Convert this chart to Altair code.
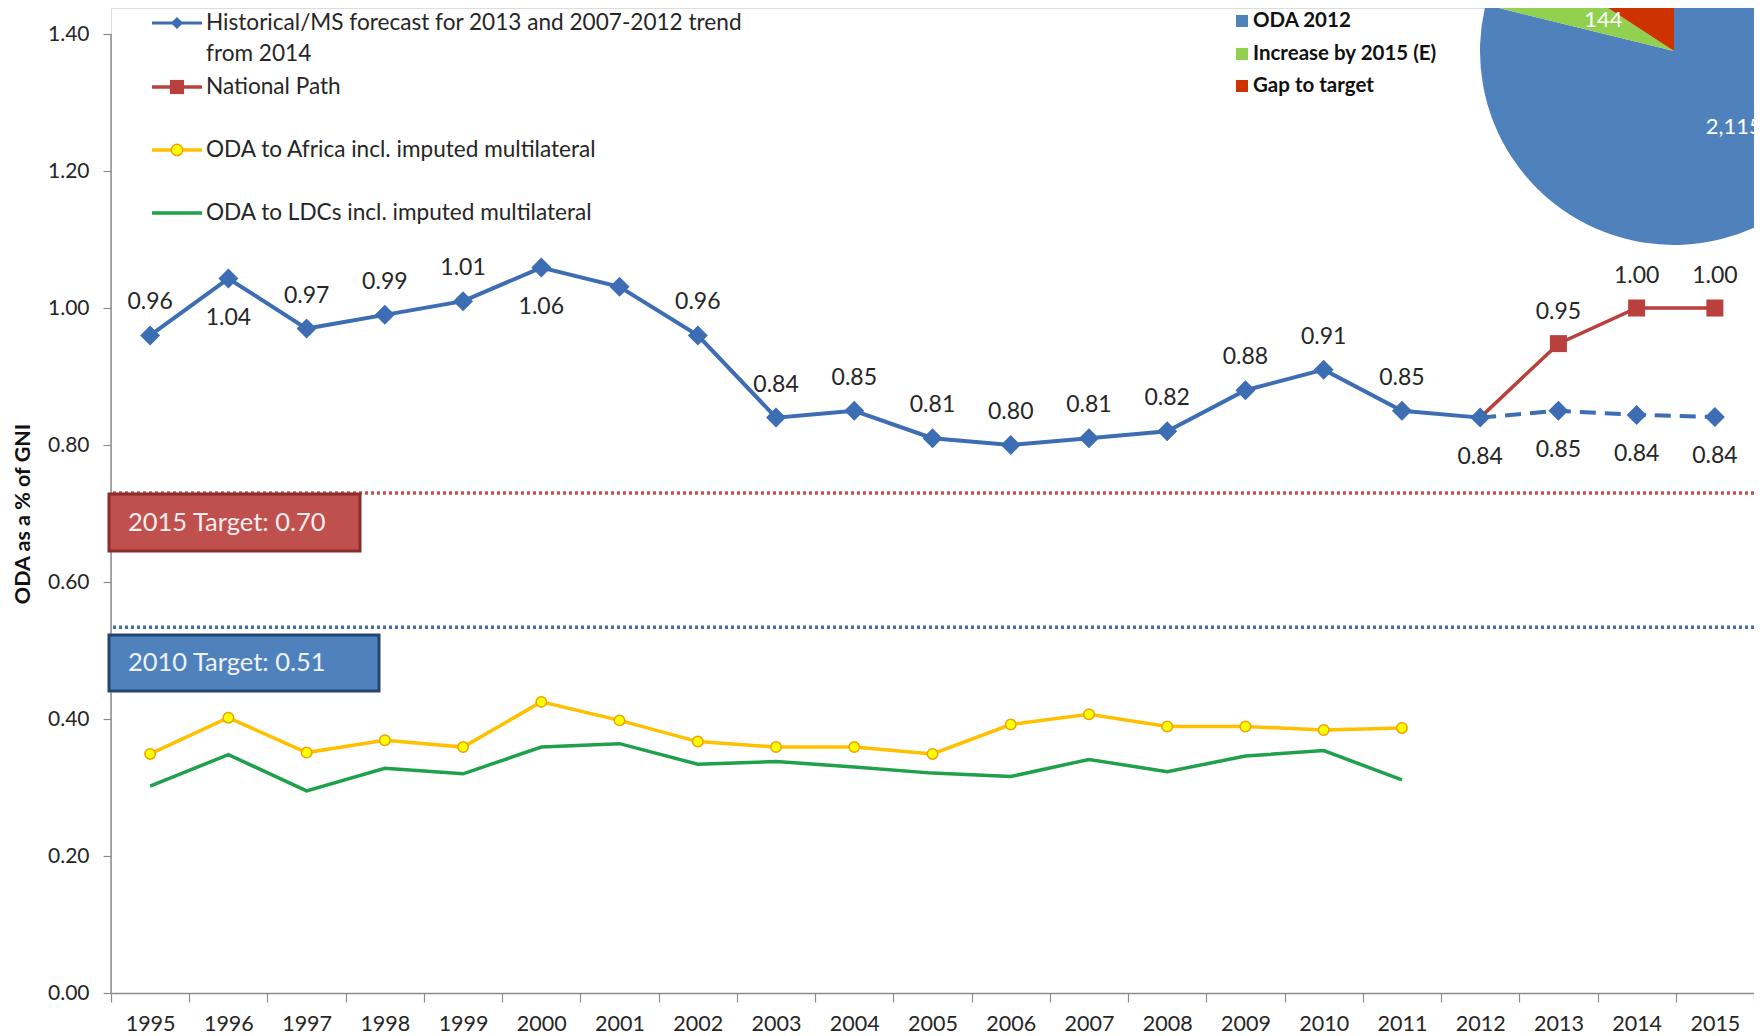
import altair as alt
import pandas as pd

# ---------------- data ----------------
years = list(range(1995, 2016))

hist_years = list(range(1995, 2013))
hist_values = [0.96, 1.043, 0.97, 0.99, 1.01, 1.059, 1.031, 0.96, 0.84, 0.85,
               0.81, 0.80, 0.81, 0.82, 0.88, 0.91, 0.85, 0.84]

forecast_years = [2012, 2013, 2014, 2015]
forecast_values = [0.84, 0.85, 0.844, 0.841]

path_years = [2012, 2013, 2014, 2015]
path_values = [0.84, 0.948, 1.00, 1.00]

africa_years = list(range(1995, 2012))
africa_values = [0.349, 0.402, 0.351, 0.369, 0.359, 0.425, 0.398, 0.367, 0.359,
                 0.359, 0.349, 0.392, 0.407, 0.389, 0.389, 0.384, 0.387]

ldc_years = list(range(1995, 2012))
ldc_values = [0.302, 0.348, 0.295, 0.328, 0.320, 0.359, 0.364, 0.334, 0.338,
              0.330, 0.321, 0.316, 0.341, 0.323, 0.346, 0.354, 0.311]

labels_below_years = [1996, 2000, 2012, 2013, 2014, 2015]
unlabelled_years = [2001]

target_texts = ["2015 Target: 0.70", "2010 Target: 0.51"]
target_line_levels = [0.730, 0.534]   # where the dotted lines are drawn in the picture

legend_labels = ["Historical/MS forecast for 2013 and 2007-2012 trend", "from 2014",
                 "National Path", "ODA to Africa incl. imputed multilateral",
                 "ODA to LDCs incl. imputed multilateral"]

pie_parts = ["ODA 2012", "Increase by 2015 (E)", "Gap to target"]
pie_values = [2115, 144, 424]
pie_labelled = ["ODA 2012", "Increase by 2015 (E)"]

y_ticks = [0.0, 0.2, 0.4, 0.6, 0.8, 1.0, 1.2, 1.4]

# ---------------- styles ----------------
BLUE = "#3D6DB2"
RED = "#B9403D"
YELLOW = "#FFC000"
GREEN = "#1FA04A"
PIE_COLORS = ["#4F81BD", "#92D050", "#CC3300"]
FONT = "Lato"
TXT = "#262626"
AXIS_GRAY = "#8C8C8C"

W, H = 1643, 985

hist_df = pd.DataFrame({"year": hist_years, "value": hist_values})
fc_df = pd.DataFrame({"year": forecast_years, "value": forecast_values})
path_df = pd.DataFrame({"year": path_years, "value": path_values})
afr_df = pd.DataFrame({"year": africa_years, "value": africa_values})
ldc_df = pd.DataFrame({"year": ldc_years, "value": ldc_values})
blue_all = pd.concat([hist_df, fc_df[fc_df.year > 2012]], ignore_index=True)
pie_df = pd.DataFrame({"part": pie_parts, "value": pie_values, "k": [0, 1, 2]})
one = pd.DataFrame({"a": [0]})

xenc = alt.X("year:O",
             scale=alt.Scale(type="band", domain=years, paddingInner=0, paddingOuter=0),
             bandPosition=0.5,
             axis=alt.Axis(title=None, labelAngle=0, tickBand="extent", tickSize=9,
                           tickColor=AXIS_GRAY, tickWidth=1.2, domainColor=AXIS_GRAY,
                           domainWidth=1.5, labelFont=FONT, labelFontSize=21.5,
                           labelColor=TXT, labelPadding=11, grid=False))
yenc = alt.Y("value:Q",
             scale=alt.Scale(domain=[0, 1.438], nice=False, zero=True),
             axis=alt.Axis(title=None, values=y_ticks, format=".2f", domain=False,
                           grid=False, tickSize=8, tickColor=AXIS_GRAY, tickWidth=1.2,
                           labelFont=FONT, labelFontSize=21, labelColor=TXT,
                           labelPadding=14))


def line(df, color, width, dash=None):
    kw = dict(color=color, strokeWidth=width)
    if dash:
        kw["strokeDash"] = dash
    return alt.Chart(df).mark_line(**kw).encode(x=xenc, y=yenc)


def pts(df, shape, size, fill, stroke=None, sw=0):
    kw = dict(shape=shape, size=size, filled=True, fill=fill, opacity=1)
    if stroke:
        kw.update(stroke=stroke, strokeWidth=sw)
    return alt.Chart(df).mark_point(**kw).encode(x=xenc, y=yenc)


def labels(df, dy):
    return alt.Chart(df).mark_text(font=FONT, fontSize=23, color=TXT, dy=dy,
                                   baseline="middle").encode(
        x=xenc, y=yenc, text=alt.Text("value:Q", format=".2f"))


def hrule(x1, x2, y, color, width, dash=None):
    kw = dict(color=color, strokeWidth=width)
    if dash:
        kw["strokeDash"] = dash
    return alt.Chart(one).mark_rule(**kw).encode(
        x=alt.value(x1), x2=alt.value(x2), y=alt.value(y))


def ptxt(x, y, text, size=22.6, color=TXT, weight="normal", align="left"):
    return alt.Chart(one).mark_text(font=FONT, fontSize=size, color=color,
                                    fontWeight=weight, align=align,
                                    baseline="middle").encode(
        x=alt.value(x), y=alt.value(y), text=alt.value(text))


def psym(x, y, shape, size, fill, stroke=None, sw=0):
    kw = dict(shape=shape, size=size, filled=True, fill=fill, opacity=1)
    if stroke:
        kw.update(stroke=stroke, strokeWidth=sw)
    return alt.Chart(one).mark_point(**kw).encode(x=alt.value(x), y=alt.value(y))


layers = []

# target dotted lines
tl_df = pd.DataFrame({"value": target_line_levels})
layers.append(alt.Chart(tl_df.iloc[[0]]).mark_rule(color="#C9504D", strokeWidth=3.5,
                                                   strokeDash=[3, 3]).encode(y=yenc))
layers.append(alt.Chart(tl_df.iloc[[1]]).mark_rule(color="#3F6FAE", strokeWidth=3.5,
                                                   strokeDash=[3, 3]).encode(y=yenc))

# y-axis line from 0 to 1.40
layers.append(alt.Chart(one).mark_rule(color=AXIS_GRAY, strokeWidth=1.5).encode(
    x=alt.value(0), y=alt.datum(0), y2=alt.datum(1.4)))

# target boxes
layers.append(alt.Chart(one).mark_rect(fill="#C0504D", stroke="#8A2D2B", strokeWidth=3).encode(
    x=alt.value(-2), x2=alt.value(249), y=alt.value(486), y2=alt.value(543)))
layers.append(ptxt(17, 515, target_texts[0], size=25.5, color="#FBEDED"))
layers.append(alt.Chart(one).mark_rect(fill="#4F81BD", stroke="#24456F", strokeWidth=3).encode(
    x=alt.value(-2), x2=alt.value(268), y=alt.value(627), y2=alt.value(683)))
layers.append(ptxt(17, 655, target_texts[1], size=25.5, color="#EEF3FA"))

# series
layers.append(line(ldc_df, GREEN, 3.5))
layers.append(line(afr_df, YELLOW, 3.5))
layers.append(pts(afr_df, "circle", 110, "#FFFF00", "#F0A000", 1.5))
layers.append(line(hist_df, BLUE, 4))
layers.append(line(fc_df, BLUE, 4, dash=[16, 9]))
layers.append(line(path_df, RED, 3.5))
layers.append(pts(blue_all, "diamond", 400, BLUE))
layers.append(pts(path_df[path_df.year > 2012], "square", 289, RED))

# data labels
skip = labels_below_years + unlabelled_years
layers.append(labels(blue_all[~blue_all.year.isin(skip)], -33))
layers.append(labels(blue_all[blue_all.year.isin(labels_below_years)], 39))
layers.append(labels(path_df[path_df.year > 2012], -32))

# line legend (top left)
LY = [15, 46, 79, 142, 205]
layers.append(hrule(41, 91, LY[0], BLUE, 3))
layers.append(psym(66, LY[0], "diamond", 150, BLUE))
layers.append(ptxt(95, LY[0], legend_labels[0]))
layers.append(ptxt(95, LY[1], legend_labels[1]))
layers.append(hrule(41, 91, LY[2], RED, 3.5))
layers.append(psym(66, LY[2], "square", 200, RED))
layers.append(ptxt(95, LY[2], legend_labels[2]))
layers.append(hrule(41, 91, LY[3], YELLOW, 3.5))
layers.append(psym(66, LY[3], "circle", 130, "#FFFF00", "#F0A000", 1.5))
layers.append(ptxt(95, LY[3], legend_labels[3]))
layers.append(hrule(41, 91, LY[4], GREEN, 3.5))
layers.append(ptxt(95, LY[4], legend_labels[4]))

# pie legend
for i, (lab, col) in enumerate(zip(pie_parts, PIE_COLORS)):
    yy = [13, 46, 78][i]
    layers.append(alt.Chart(one).mark_rect(fill=col).encode(
        x=alt.value(1125), x2=alt.value(1137), y=alt.value(yy - 6), y2=alt.value(yy + 6)))
    layers.append(ptxt(1142, yy, lab, size=20.5, color="#111111", weight="bold"))

# pie (angles in radians, clockwise from 12 o'clock)
pie_base = alt.Chart(pie_df).transform_window(
    cum="sum(value)", sort=[alt.SortField("k", order="ascending")], frame=[None, 0]
).transform_joinaggregate(total="sum(value)").transform_calculate(
    t1="(datum.cum - datum.value) / datum.total * 2 * PI",
    t2="datum.cum / datum.total * 2 * PI",
    mid="(datum.cum - datum.value / 2) / datum.total * 2 * PI",
    r="datum.k == 1 ? 77 : 97",
)
layers.append(pie_base.mark_arc(outerRadius=194).encode(
    theta=alt.Theta("t1:Q", scale=None),
    theta2=alt.Theta2("t2:Q"),
    color=alt.Color("part:N", scale=alt.Scale(domain=pie_parts, range=PIE_COLORS), legend=None),
    x=alt.value(1563), y=alt.value(43)))
layers.append(pie_base.transform_filter(
    alt.FieldOneOfPredicate(field="part", oneOf=pie_labelled)
).mark_text(font=FONT, fontSize=22, color="white").encode(
    theta=alt.Theta("mid:Q", scale=None),
    radius=alt.Radius("r:Q", scale=None),
    text=alt.Text("value:Q", format=",.0f"),
    x=alt.value(1563), y=alt.value(43)))

# y-axis title
layers.append(alt.Chart(one).mark_text(font=FONT, fontSize=21.5, fontWeight="bold", color="#111111",
                                       angle=270, align="center", baseline="middle").encode(
    x=alt.value(-87), y=alt.value(506), text=alt.value("ODA as a % of GNI")))

chart = alt.layer(*layers).properties(
    width=W, height=H,
    padding={"left": 103, "top": 0, "right": 0, "bottom": 43},
    autosize=alt.AutoSizeParams(type="none"),
).configure_view(stroke=None).configure(background="white")

chart.save("out.html", embed_options={"renderer": "svg", "actions": False})
